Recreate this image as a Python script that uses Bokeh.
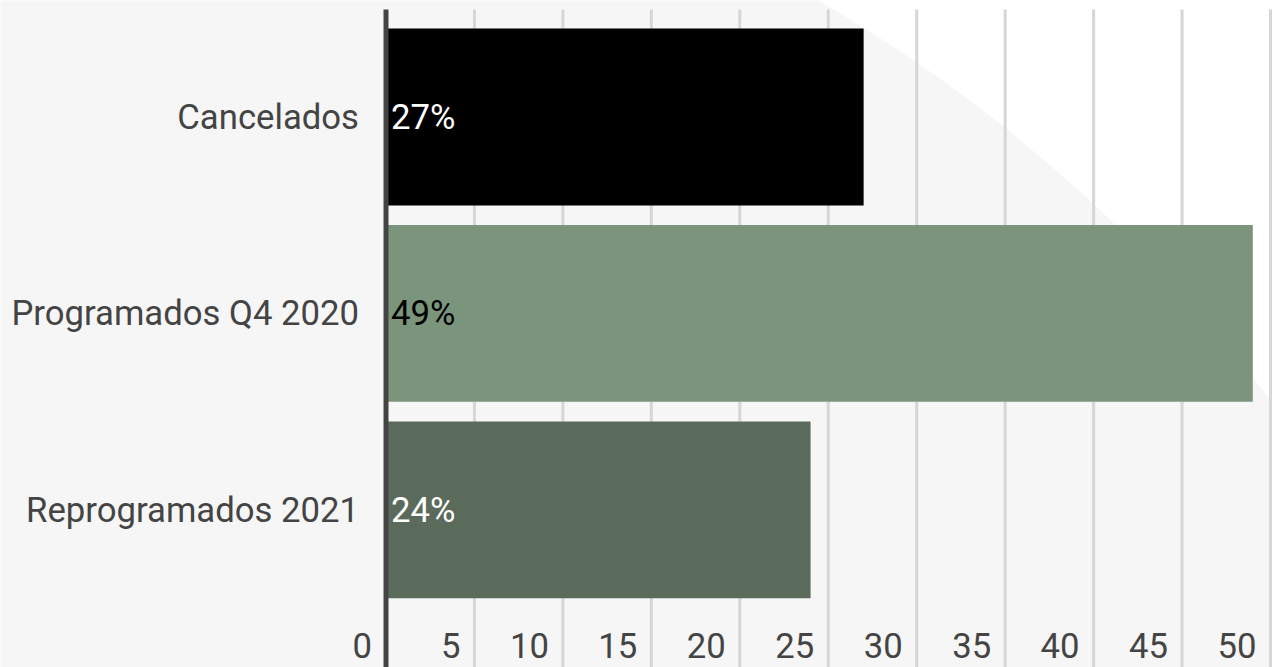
from bokeh.plotting import figure
from bokeh.models import Range1d, ColumnDataSource, LabelSet
from bokeh.core.properties import value
from bokeh.embed import file_html
from bokeh.resources import INLINE

# ---------------- data ----------------
categories = ["Cancelados", "Programados Q4 2020", "Reprogramados 2021"]
percentages = [27, 49, 24]
bar_colors = ["#000000", "#7b957c", "#5a6b5c"]
label_colors = ["#ffffff", "#000000", "#ffffff"]
x_ticks = [0, 5, 10, 15, 20, 25, 30, 35, 40, 45, 50]
x_tick_labels = [str(t) for t in x_ticks]

# ---------------- style / layout ----------------
FONT = "Roboto"
FONT_SIZE = "34.7px"
TEXT_COLOR = "#444444"
AXIS_COLOR = "#444444"
BG = "#f6f6f6"
GRID_COLOR = "#d6d6d6"

W, H = 1272, 667
X_PX = 17.69          # pixels per percent
Y_PX = 196.4          # pixels per category band
ZERO_OFFSET = 385.5   # px from left edge to value 0
FIRST_CENTER = 116.5  # px from top edge to first category centre
PLOT_TOP = 9          # px from top where grid / axis lines begin

x_start = -ZERO_OFFSET / X_PX
x_end = x_start + W / X_PX
y_top = -FIRST_CENTER / Y_PX
y_bottom = y_top + H / Y_PX
y_lines_top = y_top + PLOT_TOP / Y_PX

def px_to_data(px, py):
    return x_start + px / X_PX, y_top + py / Y_PX

ys = list(range(len(categories)))

p = figure(width=W, height=H, output_backend="svg", toolbar_location=None,
           x_range=Range1d(x_start, x_end), y_range=Range1d(y_bottom, y_top),
           x_axis_location=None, y_axis_location=None, min_border_left=0,
           min_border_right=0, min_border_top=0, min_border_bottom=0)
p.background_fill_color = "#ffffff"
p.border_fill_color = BG
p.outline_line_color = None
p.grid.visible = False

# decorative light-grey disc behind the chart (upper-right stays white)
cx, cy = px_to_data(62.6, 1310.0)
p.ellipse(x=[cx], y=[cy], width=3024, height=3024,
          width_units="screen", height_units="screen",
          fill_color=BG, line_color=None, level="image")

# vertical grid lines at the value ticks
grid_x = x_ticks[1:]
p.segment(x0=grid_x, x1=grid_x, y0=[y_lines_top] * len(grid_x),
          y1=[y_bottom] * len(grid_x), line_color=GRID_COLOR, line_width=3)

# bars
src = ColumnDataSource(dict(
    y=ys, value=percentages, color=bar_colors, category=categories,
    label=[f"{v}%" for v in percentages], label_color=label_colors,
))
p.hbar(y="y", left=0, right="value", height=0.9, fill_color="color",
       line_color=None, source=src)

# zero axis line
p.segment(x0=[0], x1=[0], y0=[y_lines_top], y1=[y_bottom],
          line_color=AXIS_COLOR, line_width=5)

# value labels inside bars
p.text(x=0, y="y", text="label", source=src, x_offset=5,
       text_align="left", text_baseline="middle", text_color="label_color",
       text_font=value(FONT), text_font_size=value(FONT_SIZE))

# category labels
p.text(x=0, y="y", text="category", source=src, x_offset=-27,
       text_align="right", text_baseline="middle", text_color=TEXT_COLOR,
       text_font=value(FONT), text_font_size=value(FONT_SIZE))

# value tick labels, right-aligned just left of each grid line
tick_src = ColumnDataSource(dict(x=x_ticks, text=x_tick_labels,
                                 y=[y_bottom - 10 / Y_PX] * len(x_ticks)))
p.add_layout(LabelSet(x="x", y="y", text="text", source=tick_src,
                      x_offset=-14, text_align="right",
                      text_baseline="alphabetic", text_color=TEXT_COLOR,
                      text_font=value(FONT), text_font_size=value(FONT_SIZE)))

open("out.html", "w").write(file_html(p, INLINE))
